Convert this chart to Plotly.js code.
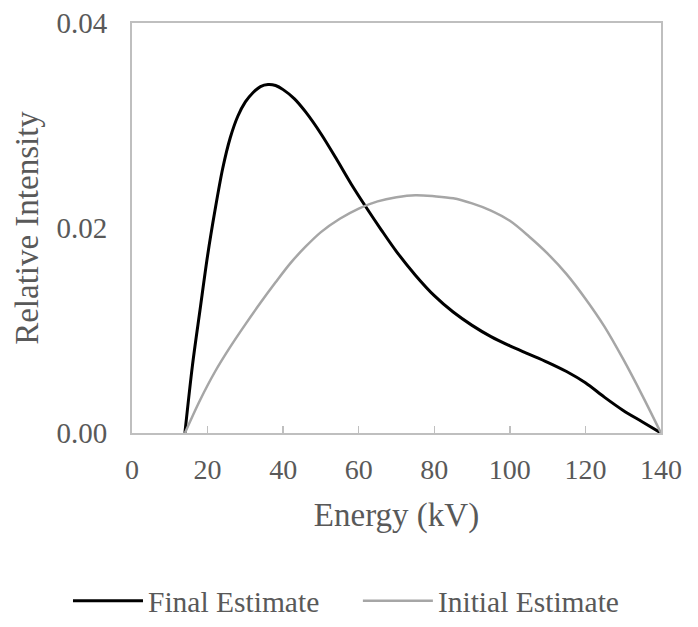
<!DOCTYPE html>
<html>
<head>
<meta charset="utf-8">
<script src="https://cdn.plot.ly/plotly-3.0.1.min.js"></script>
<style>html,body{margin:0;padding:0;background:#fff;}#chart{width:698px;height:627px;}</style>
</head>
<body>
<div id="chart"></div>
<script>
// Final Estimate (black)
const finalX = [14, 16, 18, 20, 22, 24, 26, 28, 30, 32, 34, 36, 38, 40, 43, 46, 50, 54, 58, 62, 66, 70, 75, 80, 85, 90, 95, 100, 105, 110, 115, 120, 125, 130, 135, 140];
const finalY = [0, 0.0066, 0.0120, 0.0173, 0.0218, 0.0258, 0.0288, 0.0309, 0.0323, 0.0332, 0.0338, 0.0340, 0.0339, 0.0335, 0.0326, 0.0313, 0.0292, 0.0268, 0.0243, 0.0220, 0.0198, 0.0177, 0.0154, 0.0134, 0.0118, 0.0105, 0.0094, 0.0085, 0.0077, 0.0069, 0.0060, 0.0049, 0.0035, 0.0022, 0.0011, 0];
// Initial Estimate (grey)
const initX = [14, 18, 22, 26, 30, 34, 38, 42, 46, 50, 55, 60, 65, 70, 75, 80, 85, 90, 95, 100, 105, 110, 115, 120, 125, 130, 135, 140];
const initY = [0, 0.0032, 0.0060, 0.0084, 0.0106, 0.0127, 0.0147, 0.0166, 0.0182, 0.0196, 0.0209, 0.0219, 0.0226, 0.0230, 0.0232, 0.0231, 0.0229, 0.0224, 0.0217, 0.0207, 0.0192, 0.0175, 0.0155, 0.0131, 0.0104, 0.0072, 0.0037, 0];
const seriesNames = ["Final Estimate", "Initial Estimate"];
const xTicks = [0, 20, 40, 60, 80, 100, 120, 140];
const yTicks = [0, 0.02, 0.04];

const font = {family: "Liberation Serif, Times New Roman, serif", color: "#595959"};
const f = s => Object.assign({size: s}, font);

const traces = [
  {x: finalX, y: finalY, name: seriesNames[0], mode: "lines", legend: "legend", line: {color: "#000000", width: 3, shape: "spline", smoothing: 0.9}},
  {x: initX, y: initY, name: seriesNames[1], mode: "lines", legend: "legend2", line: {color: "#a6a6a6", width: 2.5, shape: "spline", smoothing: 0.9}}
];

const legendBase = {orientation: "h", xanchor: "left", y: -0.41, yanchor: "middle", font: f(29.5), itemwidth: 70, bgcolor: "rgba(0,0,0,0)"};

const layout = {
  width: 698, height: 627,
  margin: {l: 132, r: 37, t: 23, b: 194, autoexpand: false},
  paper_bgcolor: "#fff", plot_bgcolor: "#fff",
  font: f(28),
  showlegend: true,
  legend: Object.assign({x: -0.121}, legendBase),
  legend2: Object.assign({x: 0.427}, legendBase),
  xaxis: {
    range: [0, 140], tickvals: xTicks, ticktext: xTicks.map(String),
    showgrid: false, zeroline: false, showline: true, linecolor: "#bfbfbf", linewidth: 2, mirror: true,
    ticks: "inside", ticklen: 7, tickcolor: "#bfbfbf", tickwidth: 1.5, ticklabelstandoff: 10,
    tickfont: f(28),
    title: {text: "Energy (kV)", font: f(33), standoff: 19},
    automargin: false
  },
  yaxis: {
    range: [0, 0.04], tickvals: yTicks, ticktext: yTicks.map(v => v.toFixed(2)),
    showgrid: false, zeroline: false, showline: true, linecolor: "#bfbfbf", linewidth: 2, mirror: true,
    ticks: "", ticklabelstandoff: 17,
    tickfont: f(29),
    title: {text: "Relative Intensity", font: f(33), standoff: 8},
    automargin: false
  }
};

Plotly.newPlot("chart", traces, layout, {displayModeBar: false, staticPlot: true});
</script>
</body>
</html>
